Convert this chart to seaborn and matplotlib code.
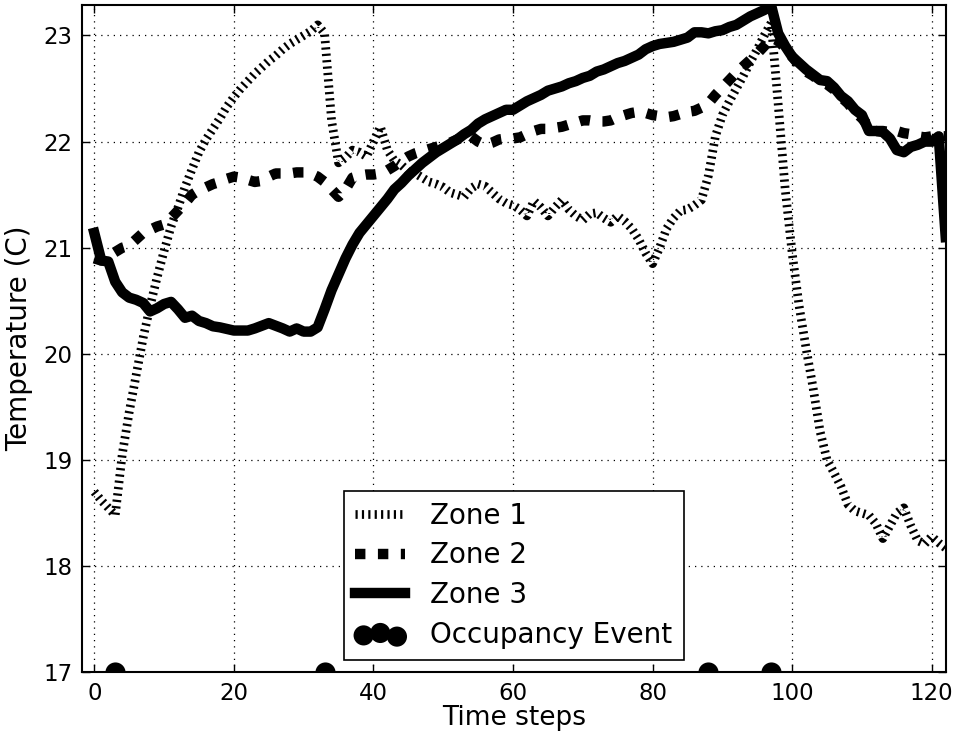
import numpy as np
import pandas as pd
import matplotlib
matplotlib.use("Agg")
import matplotlib.pyplot as plt
import seaborn as sns

# ---------------- data ----------------
t_zone1 = [0, 1, 2, 3, 4, 5, 6, 7, 8, 9, 10, 11, 12, 13, 14, 15, 16, 17, 18, 19,
           20, 21, 22, 23, 24, 25, 26, 27, 28, 29, 30, 31, 32, 33, 34, 35, 36, 37, 38, 39,
           40, 41, 42, 43, 44, 45, 46, 47, 48, 49, 50, 51, 52, 53, 54, 55, 56, 57, 58, 59,
           60, 61, 62, 63, 64, 65, 66, 67, 68, 69, 70, 71, 72, 73, 74, 75, 76, 77, 78, 79,
           80, 81, 82, 83, 84, 85, 86, 87, 88, 89, 90, 91, 92, 93, 94, 95, 96, 97, 98, 99,
           100, 101, 102, 103, 104, 105, 106, 107, 108, 109, 110, 111, 112, 113, 114, 115,
           116, 117, 118, 119, 120, 121, 122]
zone1 = [18.70, 18.62, 18.55, 18.48, 19.05, 19.45, 19.80, 20.15, 20.45, 20.72,
         20.97, 21.20, 21.38, 21.57, 21.74, 21.90, 22.02, 22.12, 22.22, 22.33,
         22.42, 22.50, 22.57, 22.64, 22.70, 22.76, 22.81, 22.87, 22.92, 22.96,
         23.00, 23.04, 23.10, 23.02, 22.20, 21.80, 21.85, 21.92, 21.90, 21.86,
         22.00, 22.14, 21.92, 21.82, 21.78, 21.72, 21.70, 21.66, 21.62, 21.60,
         21.57, 21.52, 21.50, 21.48, 21.56, 21.60, 21.58, 21.52, 21.46, 21.42,
         21.40, 21.36, 21.30, 21.44, 21.38, 21.30, 21.38, 21.45, 21.36, 21.30,
         21.26, 21.32, 21.33, 21.28, 21.24, 21.30, 21.25, 21.18, 21.08, 20.95,
         20.85, 21.00, 21.18, 21.28, 21.35, 21.36, 21.40, 21.45, 21.68, 22.05,
         22.25, 22.38, 22.50, 22.62, 22.75, 22.87, 23.00, 23.12, 22.35, 21.55,
         20.95, 20.45, 20.05, 19.68, 19.27, 19.00, 18.88, 18.75, 18.58, 18.52,
         18.50, 18.48, 18.40, 18.26, 18.38, 18.50, 18.55, 18.38, 18.24, 18.21,
         18.28, 18.22, 18.17]

t_zone2 = list(range(0, 123))
zone2 = [20.90, 20.88, 20.92, 20.96, 21.00, 21.02, 21.08, 21.14, 21.17, 21.20,
         21.22, 21.28, 21.35, 21.42, 21.50, 21.54, 21.57, 21.60, 21.62, 21.65,
         21.67, 21.66, 21.64, 21.62, 21.63, 21.67, 21.70, 21.70, 21.70, 21.71,
         21.71, 21.70, 21.67, 21.62, 21.55, 21.48, 21.55, 21.66, 21.68, 21.69,
         21.69, 21.70, 21.73, 21.77, 21.82, 21.86, 21.89, 21.91, 21.93, 21.95,
         21.97, 21.99, 22.02, 22.05, 22.05, 22.00, 21.97, 21.99, 22.02, 22.03,
         22.03, 22.04, 22.07, 22.10, 22.12, 22.12, 22.13, 22.14, 22.16, 22.18,
         22.20, 22.20, 22.19, 22.19, 22.20, 22.23, 22.25, 22.27, 22.28, 22.27,
         22.25, 22.24, 22.23, 22.24, 22.26, 22.28, 22.29, 22.32, 22.36, 22.44,
         22.51, 22.58, 22.65, 22.71, 22.77, 22.83, 22.90, 22.98, 22.95, 22.88,
         22.80, 22.72, 22.66, 22.62, 22.57, 22.54, 22.49, 22.42, 22.36, 22.28,
         22.22, 22.14, 22.10, 22.10, 22.09, 22.10, 22.08, 22.07, 22.05, 22.04,
         22.05, 22.05, 22.05]

t_zone3 = [0, 1, 2, 3, 4, 5, 6, 7, 8, 9, 10, 11, 12, 13, 14, 15, 16, 17, 18, 20,
           22, 23, 25, 27, 28, 29, 30, 31, 32, 33, 34, 35, 36, 37, 38, 39, 40, 41, 42, 43,
           44, 45, 46, 47, 48, 49, 50, 51, 52, 53, 54, 55, 56, 57, 58, 59, 60, 61, 62, 63,
           64, 65, 66, 67, 68, 69, 70, 71, 72, 73, 74, 75, 76, 77, 78, 79, 80, 81, 82, 83,
           84, 85, 86, 87, 88, 89, 90, 91, 92, 93, 94, 95, 96, 97, 98, 99, 100, 101, 102,
           103, 104, 105, 106, 107, 108, 109, 110, 111, 112, 113, 114, 115, 116, 117, 118,
           119, 120, 121, 122]
zone3 = [21.14, 20.88, 20.87, 20.68, 20.58, 20.53, 20.51, 20.48, 20.40, 20.43,
         20.47, 20.49, 20.42, 20.34, 20.36, 20.31, 20.29, 20.26, 20.25, 20.22,
         20.22, 20.24, 20.29, 20.24, 20.21, 20.24, 20.21, 20.21, 20.25, 20.42,
         20.60, 20.75, 20.90, 21.03, 21.14, 21.22, 21.30, 21.38, 21.46, 21.55,
         21.61, 21.68, 21.74, 21.80, 21.85, 21.90, 21.94, 21.98, 22.02, 22.07,
         22.11, 22.17, 22.21, 22.24, 22.27, 22.30, 22.30, 22.34, 22.38, 22.41,
         22.44, 22.48, 22.50, 22.52, 22.55, 22.57, 22.60, 22.62, 22.66, 22.68,
         22.71, 22.74, 22.76, 22.79, 22.82, 22.87, 22.90, 22.92, 22.93, 22.94,
         22.96, 22.98, 23.03, 23.03, 23.02, 23.04, 23.05, 23.08, 23.10, 23.14,
         23.18, 23.21, 23.24, 23.28, 23.02, 22.90, 22.80, 22.74, 22.68, 22.63,
         22.58, 22.57, 22.51, 22.43, 22.38, 22.30, 22.25, 22.10, 22.10, 22.09,
         22.03, 21.92, 21.90, 21.95, 21.97, 22.00, 22.00, 22.05, 21.10]

occupancy_t = [3, 33, 88, 97]
occupancy_y = [17, 17, 17, 17]

series_labels = ["Zone 1", "Zone 2", "Zone 3", "Occupancy Event"]
x_ticks = [0, 20, 40, 60, 80, 100, 120]
y_ticks = [17, 18, 19, 20, 21, 22, 23]

# ---------------- figure ----------------
plt.rcParams["font.family"] = ["DejaVu Sans"]
fig = plt.figure(figsize=(9.58, 7.36), dpi=100)
ax = fig.add_axes([82 / 958, 1 - 672.3 / 736, (945.7 - 82) / 958, (672.3 - 4.7) / 736])

df1 = pd.DataFrame({"t": t_zone1, "y": zone1})
df2 = pd.DataFrame({"t": t_zone2, "y": zone2})
df3 = pd.DataFrame({"t": t_zone3, "y": zone3})
dfo = pd.DataFrame({"t": occupancy_t, "y": occupancy_y})

sns.lineplot(data=df1, x="t", y="y", ax=ax, color="black", linewidth=6.3,
             linestyle=(0, (0.25, 0.48)), estimator=None,
             dash_capstyle="butt", zorder=3)
sns.lineplot(data=df2, x="t", y="y", ax=ax, color="black", linewidth=7.5,
             linestyle=(0, (1.0, 1.2)), estimator=None, dash_capstyle="butt", zorder=3)
sns.lineplot(data=df3, x="t", y="y", ax=ax, color="black", linewidth=7.5,
             estimator=None, zorder=3)
sns.scatterplot(data=dfo, x="t", y="y", ax=ax, color="black", s=210,
                edgecolor="black", linewidth=0, zorder=4)

ax.set_xlim(-1.76, 122)
ax.set_ylim(17, 23.29)
ax.set_xticks(x_ticks)
ax.set_yticks(y_ticks)
ax.set_xticklabels([str(v) for v in x_ticks])
ax.set_yticklabels([str(v) for v in y_ticks])
ax.tick_params(direction="in", top=True, right=True, length=6, width=1,
               labelsize=16.5, pad=7)
ax.set_xlabel("Time steps", fontsize=19, labelpad=0)
ax.set_ylabel("Temperature (C)", fontsize=20, labelpad=7)
for sp in ax.spines.values():
    sp.set_linewidth(1.5)
    sp.set_color("black")
ax.grid(True, color="black", linestyle=(0, (1, 4)), linewidth=0.9)
ax.set_axisbelow(True)

lines = ax.get_lines()
handles = [lines[0], lines[1], lines[2], ax.collections[0]]
leg = ax.legend(handles, series_labels, loc="lower center", fontsize=20,
                scatterpoints=3, scatteryoffsets=[0.375, 0.5, 0.3125],
                fancybox=False, framealpha=1, edgecolor="black",
                handlelength=1.8, handletextpad=0.9, labelspacing=0.42,
                borderpad=0.4, borderaxespad=0.45)
leg.get_frame().set_linewidth(1.2)

fig.savefig("out.png", dpi=100)
